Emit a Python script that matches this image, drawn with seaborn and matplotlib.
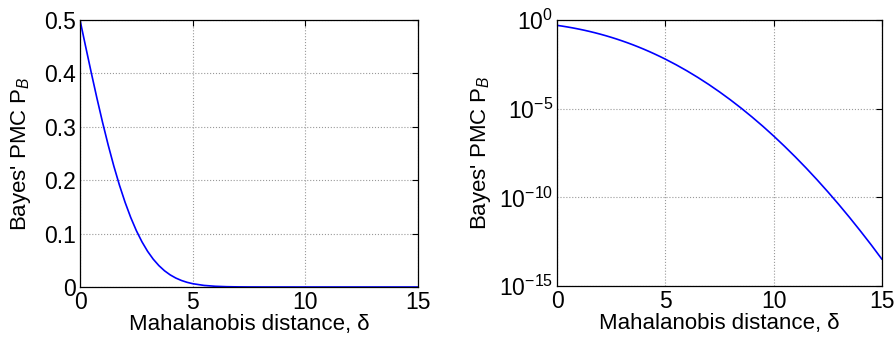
import matplotlib
matplotlib.use("Agg")
import matplotlib.pyplot as plt
import seaborn as sns
import pandas as pd
from matplotlib.ticker import FixedLocator, NullLocator

# values
delta = [0, 0.25, 0.5, 0.75, 1, 1.25, 1.5, 1.75, 2, 2.25, 2.5, 2.75, 3, 3.25, 3.5, 3.75,
         4, 4.25, 4.5, 4.75, 5, 5.5, 6, 6.5, 7, 7.5, 8, 8.5, 9, 9.5, 10, 10.5, 11, 11.5,
         12, 12.5, 13, 13.5, 14, 14.5, 15]
pmc = [0.5, 0.4503, 0.4013, 0.3538, 0.3085, 0.2660, 0.2266, 0.1908, 0.1587, 0.1303,
       0.1056, 0.0846, 0.0668, 0.0521, 0.0401, 0.0304, 0.02275, 0.0168, 0.01222, 0.00877,
       0.00621, 0.00298, 0.00135, 5.77e-4, 2.33e-4, 8.84e-5, 3.17e-5, 1.07e-5, 3.40e-6,
       1.02e-6, 2.87e-7, 7.60e-8, 1.90e-8, 4.47e-9, 9.87e-10, 2.05e-10, 4.02e-11, 7.4e-12,
       1.28e-12, 2.1e-13, 3.19e-14]
xticks = [0, 5, 10, 15]
lin_yticks = [0, 0.1, 0.2, 0.3, 0.4, 0.5]
lin_ylabels = ["0", "0.1", "0.2", "0.3", "0.4", "0.5"]
log_yticks = [1e0, 1e-5, 1e-10, 1e-15]
log_ylabels = [r"$10^{0}$", r"$10^{-5}$", r"$10^{-10}$", r"$10^{-15}$"]
xlabel = "Mahalanobis distance, δ"
ylabel = r"Bayes' PMC P$_{\mathit{B}}$"

df = pd.DataFrame({"delta": delta, "pmc": pmc})

sns.set_style("white")
plt.rcParams["font.family"] = ["Liberation Sans", "DejaVu Sans"]
plt.rcParams["mathtext.fontset"] = "custom"
plt.rcParams["mathtext.rm"] = "Liberation Sans"
plt.rcParams["mathtext.it"] = "Liberation Sans:italic"
plt.rcParams["mathtext.default"] = "regular"
plt.rcParams["axes.labelcolor"] = "black"
plt.rcParams["text.color"] = "black"

fig = plt.figure(figsize=(8.96, 3.38), dpi=100)
W, H = 896, 338
ax1 = fig.add_axes([80 / W, 1 - 287 / H, (418 - 80) / W, (287 - 20) / H])
ax2 = fig.add_axes([557 / W, 1 - 286 / H, (882 - 557) / W, (286 - 20) / H])

for ax in (ax1, ax2):
    sns.lineplot(data=df, x="delta", y="pmc", ax=ax, color="#0000ff", linewidth=1.2)
    ax.set_xlim(0, 15)
    ax.set_xticks(xticks)
    ax.set_xticklabels([str(t) for t in xticks])
    ax.set_xlabel(xlabel, fontsize=16, labelpad=0, color="black")
    ax.grid(True, color="#999999", linestyle=":", linewidth=0.8)
    ax.tick_params(direction="in", length=4, width=0.8, labelsize=16.5, top=True, right=True,
                   pad=3, colors="black")
    for s in ax.spines.values():
        s.set_color("black")
        s.set_linewidth(0.9)

ax1.set_ylabel(ylabel, fontsize=16, labelpad=8, color="black")
ax2.set_ylabel(ylabel, fontsize=16, labelpad=4, color="black")

ax1.set_ylim(0, 0.5)
ax1.set_yticks(lin_yticks)
ax1.set_yticklabels(lin_ylabels)

ax2.set_yscale("log")
ax2.set_ylim(1e-15, 1e0)
ax2.yaxis.set_major_locator(FixedLocator(log_yticks))
ax2.yaxis.set_minor_locator(NullLocator())
ax2.set_yticklabels(log_ylabels)

fig.savefig("out.png", dpi=100)
